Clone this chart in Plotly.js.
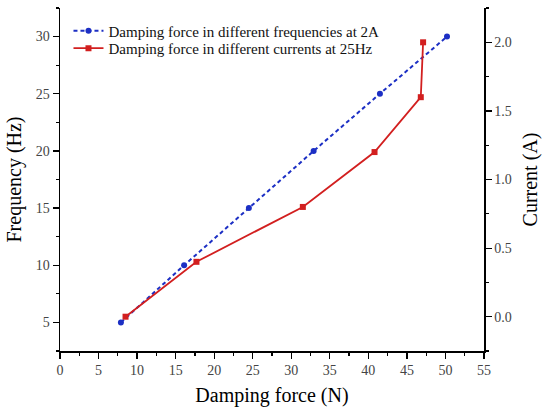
<!DOCTYPE html>
<html>
<head>
<meta charset="utf-8">
<script src="https://cdn.plot.ly/plotly-3.0.1.min.js"></script>
<style>html,body{margin:0;padding:0;background:#fff}#chart{width:550px;height:414px}</style>
</head>
<body>
<div id="chart"></div>
<script>
// Series 1: damping force at different frequencies, 2A
const freqForce = [7.9, 16.1, 24.5, 32.9, 41.5, 50.2];
const freqValues = [5, 10, 15, 20, 25, 30];
// Series 2: damping force at different currents, 25Hz
const currForce = [8.5, 17.7, 31.5, 40.8, 46.8, 47.1];
const currValues = [0, 0.4, 0.8, 1.2, 1.6, 2.0];

const seriesNames = [
  'Damping force in different frequencies at 2A',
  'Damping force in different currents at 25Hz'
];
const xTicks = [0, 5, 10, 15, 20, 25, 30, 35, 40, 45, 50, 55];
const yTicks = [5, 10, 15, 20, 25, 30];
const y2Ticks = [0, 0.5, 1.0, 1.5, 2.0];

const serif = 'Liberation Serif, Times New Roman, serif';
const tickFont = {family: serif, size: 14, color: '#444'};
const titleFont = {family: serif, size: 20, color: '#000'};
const legendFont = {family: serif, size: 15, color: '#111'};

const traces = [
  {
    x: freqForce, y: freqValues, name: seriesNames[0],
    type: 'scatter', mode: 'lines+markers',
    line: {color: '#1c2fc4', width: 2, dash: '4px,3px'},
    marker: {color: '#1c2fc4', size: 6, symbol: 'circle'},
    xaxis: 'x', yaxis: 'y', legend: 'legend'
  },
  {
    x: currForce, y: currValues, name: seriesNames[1],
    type: 'scatter', mode: 'lines+markers',
    line: {color: '#d21f1f', width: 1.8},
    marker: {color: '#d21f1f', size: 6, symbol: 'square'},
    xaxis: 'x', yaxis: 'y2', legend: 'legend2'
  }
];

const layout = {
  width: 550, height: 414,
  margin: {l: 60, r: 66, t: 8, b: 63},
  paper_bgcolor: '#fff', plot_bgcolor: '#fff',
  showlegend: true,
  legend: {
    x: 0.02, y: 0.933, xanchor: 'left', yanchor: 'middle',
    bgcolor: 'rgba(0,0,0,0)', borderwidth: 0, font: legendFont, itemwidth: 30
  },
  legend2: {
    x: 0.02, y: 0.882, xanchor: 'left', yanchor: 'middle',
    bgcolor: 'rgba(0,0,0,0)', borderwidth: 0, font: legendFont, itemwidth: 30
  },
  xaxis: {
    range: [0, 55], tickvals: xTicks, ticktext: xTicks.map(String),
    showgrid: false, zeroline: false,
    showline: true, linecolor: '#000', linewidth: 1.5,
    ticks: 'outside', ticklen: 6, tickwidth: 1.2, tickcolor: '#000',
    minor: {ticks: 'outside', dtick: 2.5, ticklen: 3, tickwidth: 1.2, tickcolor: '#000'},
    tickfont: tickFont,
    title: {text: 'Damping force (N)', font: titleFont, standoff: 10}
  },
  xaxis2: {
    overlaying: 'x', side: 'top', range: [0, 55], tickvals: xTicks,
    showticklabels: false, showgrid: false, zeroline: false,
    showline: true, linecolor: '#000', linewidth: 1.5,
    ticks: 'inside', ticklen: 6, tickwidth: 1.2, tickcolor: '#000',
    minor: {ticks: 'inside', dtick: 2.5, ticklen: 3, tickwidth: 1.2, tickcolor: '#000'}
  },
  yaxis: {
    range: [2.5, 32.5], tickvals: yTicks, ticktext: yTicks.map(String),
    showgrid: false, zeroline: false,
    showline: true, linecolor: '#000', linewidth: 1.5,
    ticks: 'outside', ticklen: 6, tickwidth: 1.2, tickcolor: '#000',
    minor: {ticks: 'outside', dtick: 2.5, ticklen: 3, tickwidth: 1.2, tickcolor: '#000'},
    tickfont: tickFont,
    title: {text: 'Frequency (Hz)', font: titleFont, standoff: 8}
  },
  yaxis2: {
    overlaying: 'y', side: 'right', range: [-0.25, 2.25],
    tickvals: y2Ticks, ticktext: y2Ticks.map(v => v.toFixed(1)),
    showgrid: false, zeroline: false,
    showline: true, linecolor: '#000', linewidth: 1.5,
    ticks: 'outside', ticklen: 6, tickwidth: 1.2, tickcolor: '#000',
    minor: {ticks: 'outside', dtick: 0.25, ticklen: 3, tickwidth: 1.2, tickcolor: '#000'},
    tickfont: tickFont,
    title: {text: 'Current (A)', font: titleFont, standoff: 12}
  }
};

Plotly.newPlot('chart', traces, layout, {displayModeBar: false, staticPlot: true});
</script>
</body>
</html>
